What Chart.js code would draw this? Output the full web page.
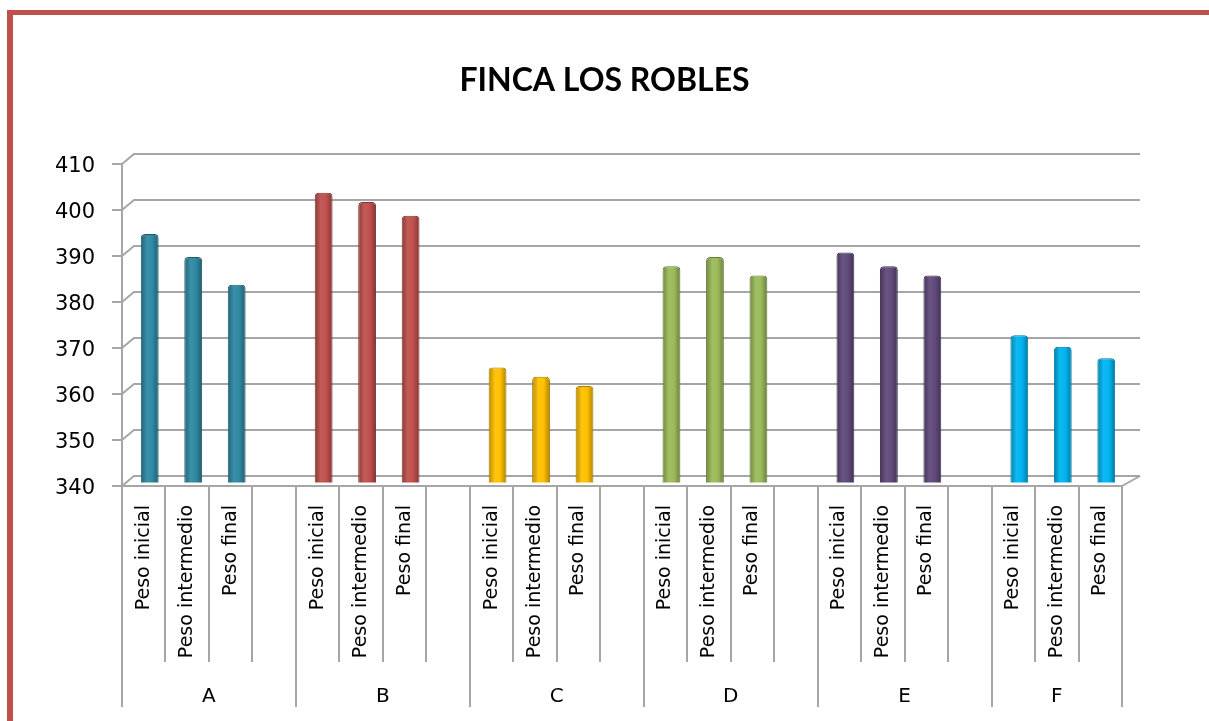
<!DOCTYPE html>
<html>
<head>
<meta charset="utf-8">
<script src="https://cdn.jsdelivr.net/npm/chart.js@4.4.1/dist/chart.umd.min.js"></script>
<style>
  html, body { margin: 0; padding: 0; background: #fff; overflow: hidden; }
  #wrap { position: relative; width: 1209px; height: 721px; overflow: hidden; }
  #frame { position: absolute; left: 7px; top: 10px; width: 1400px; height: 900px;
           border-left: 6px solid #C0504D; border-top: 5px solid #C0504D; }
  canvas { position: absolute; left: 0; top: 0; }
</style>
</head>
<body>
<div id="wrap">
  <div id="frame"></div>
  <canvas id="c" width="1209" height="721"></canvas>
</div>
<script>
// ---- data ----
const groups = ['A', 'B', 'C', 'D', 'E', 'F'];
const subLabels = ['Peso inicial', 'Peso intermedio', 'Peso final'];
const pesoInicial    = [394, 403, 365, 387, 390, 372];
const pesoIntermedio = [389, 401, 363, 389, 387, 369.5];
const pesoFinal      = [383, 398, 361, 385, 385, 367];
const groupColors = ['#2F89A3', '#C0504D', '#FFC000', '#9BBB59', '#604A7B', '#00B4F0'];
const yTicks = [340, 350, 360, 370, 380, 390, 400, 410];

// build slots: 3 bars + 1 empty slot per group (no trailing empty slot)
const series = [pesoInicial, pesoIntermedio, pesoFinal];
const labels = [], values = [], groupOf = [], groupStart = [];
groups.forEach((g, gi) => {
  groupStart.push(labels.length);
  subLabels.forEach((s, si) => { labels.push(s); values.push(series[si][gi]); groupOf.push(gi); });
  if (gi < groups.length - 1) { labels.push(''); values.push(null); groupOf.push(gi); }
});
groupStart.push(labels.length);

function shade(hex, f) {
  const n = parseInt(hex.slice(1), 16);
  let r = (n >> 16) & 255, g = (n >> 8) & 255, b = n & 255;
  if (f < 0) { r = r * (1 + f); g = g * (1 + f); b = b * (1 + f); }
  else { r = r + (255 - r) * f; g = g + (255 - g) * f; b = b + (255 - b) * f; }
  return 'rgb(' + Math.round(r) + ',' + Math.round(g) + ',' + Math.round(b) + ')';
}

const DEPTH_X = 6, DEPTH_Y = -3.5;
const GRID = '#a6a6a6';

const depthPlugin = {
  id: 'depth',
  beforeDatasetsDraw(chart) {
    const ctx = chart.ctx, ys = chart.scales.y, area = chart.chartArea;
    ctx.save();
    ctx.strokeStyle = GRID; ctx.lineWidth = 2;
    yTicks.forEach(v => {
      const y = ys.getPixelForValue(v);
      ctx.beginPath();
      ctx.moveTo(area.left, y);
      ctx.lineTo(area.left + 12, y - 10);
      ctx.lineTo(area.right + 18, y - 10);
      ctx.stroke();
    });
    // floor right edge
    ctx.beginPath();
    ctx.moveTo(area.right, area.bottom);
    ctx.lineTo(area.right + 18, area.bottom - 10);
    ctx.stroke();
    ctx.restore();
    ctx.save();
    ctx.translate(DEPTH_X, DEPTH_Y);
  },
  afterDatasetsDraw(chart) {
    chart.ctx.restore();
  },
  afterDraw(chart) {
    const ctx = chart.ctx, area = chart.chartArea;
    const n = labels.length;
    const slot = (area.right - area.left) / n;
    ctx.save();
    ctx.strokeStyle = GRID; ctx.lineWidth = 2;
    for (let i = 0; i <= n; i++) {
      const x = Math.round(area.left + i * slot);
      const isGroup = groupStart.indexOf(i) >= 0;
      ctx.beginPath();
      ctx.moveTo(x, area.bottom);
      ctx.lineTo(x, isGroup ? 707 : 662);
      ctx.stroke();
    }
    ctx.fillStyle = '#000';
    ctx.font = '20px "DejaVu Sans"';
    ctx.textAlign = 'center'; ctx.textBaseline = 'middle';
    groups.forEach((g, gi) => {
      const x0 = area.left + groupStart[gi] * slot;
      const x1 = area.left + groupStart[gi + 1] * slot;
      ctx.fillText(g, (x0 + x1) / 2, 697);
    });
    ctx.restore();
  }
};

const BAR_W = 17.8;
function barFill(c) {
  const base = groupColors[groupOf[c.dataIndex]];
  const chart = c.chart;
  if (!chart.chartArea || !chart.scales.x) return base;
  const x = chart.scales.x.getPixelForValue(c.dataIndex);
  const g = chart.ctx.createLinearGradient(x - BAR_W / 2, 0, x + BAR_W / 2, 0);
  g.addColorStop(0, shade(base, -0.28));
  g.addColorStop(0.35, shade(base, 0.06));
  g.addColorStop(0.65, base);
  g.addColorStop(1, shade(base, -0.32));
  return g;
}

new Chart(document.getElementById('c'), {
  type: 'bar',
  data: {
    labels: labels,
    datasets: [{
      data: values,
      backgroundColor: barFill,
      borderColor: c => shade(groupColors[groupOf[c.dataIndex]], -0.35),
      borderWidth: 1,
      borderRadius: 4,
      borderSkipped: false,
      barPercentage: 0.41,
      categoryPercentage: 1
    }]
  },
  options: {
    responsive: false,
    animation: false,
    devicePixelRatio: 1,
    layout: { padding: 0 },
    plugins: {
      legend: { display: false },
      tooltip: { enabled: false },
      title: {
        display: true,
        text: 'FINCA LOS ROBLES',
        color: '#000',
        font: { family: 'Lato', weight: 'bold', size: 32, lineHeight: 1.2 },
        padding: { top: 61, bottom: 64.6 }
      }
    },
    scales: {
      x: {
        grid: { display: false, drawTicks: false },
        border: { display: true, color: GRID, width: 2 },
        ticks: {
          autoSkip: false, maxRotation: 90, minRotation: 90, padding: 19,
          color: '#000', font: { family: 'DejaVu Sans', size: 19 }
        },
        afterFit: s => { s.height = 235; }
      },
      y: {
        min: 340, max: 410,
        ticks: { stepSize: 10, padding: 17, labelOffset: 3, color: '#000', font: { family: 'DejaVu Sans', size: 21 } },
        grid: { drawOnChartArea: false, drawTicks: true, tickLength: 10, color: GRID, lineWidth: 2 },
        border: { display: true, color: GRID, width: 2 },
        afterFit: s => { s.width = 122; }
      },
      yRight: {
        type: 'linear',
        position: 'right',
        display: true,
        min: 340, max: 410,
        grid: { display: false, drawTicks: false },
        border: { display: false },
        ticks: { display: false },
        afterFit: s => { s.width = 87; }
      }
    }
  },
  plugins: [depthPlugin]
});
</script>
</body>
</html>
